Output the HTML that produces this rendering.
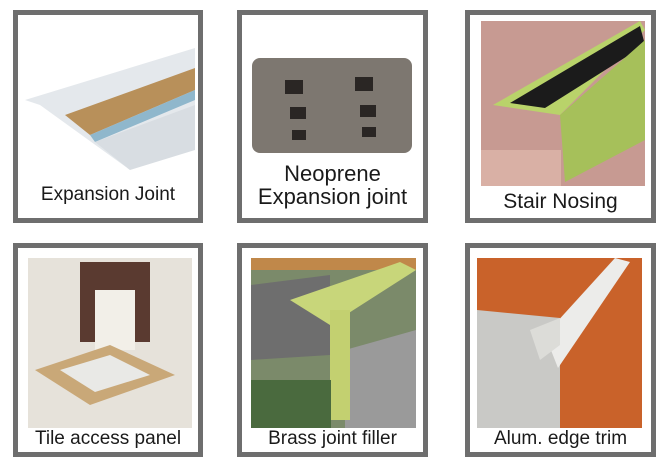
<!DOCTYPE html>
<html><head><style>
body{margin:0;background:#fff;width:670px;height:468px;overflow:hidden;font-family:"Liberation Sans",sans-serif}
.b{position:absolute;box-sizing:border-box;border:5px solid #6e6e6e;background:#fff}
.t{position:absolute;left:0;right:0;text-align:center;color:#1a1a1a;white-space:nowrap}
</style></head><body>
<svg width="670" height="468" style="position:absolute;left:0;top:0">
<polygon points="25,100 195,48 195,120 130,170 40,105" fill="#e4e8ec"/>
<polygon points="65,115 195,68 195,90 90,135" fill="#b8905a"/>
<polygon points="90,135 195,90 195,100 95,142" fill="#8fb7cc"/>
<polygon points="95,142 195,105 195,150 130,170" fill="#d8dde2"/>
<rect x="252" y="58" width="160" height="95" rx="8" fill="#7d7770"/>
<g fill="#2a2624"><rect x="285" y="80" width="18" height="14"/><rect x="355" y="77" width="18" height="14"/><rect x="290" y="107" width="16" height="12"/><rect x="360" y="105" width="16" height="12"/><rect x="292" y="130" width="14" height="10"/><rect x="362" y="127" width="14" height="10"/></g>
<rect x="481" y="21" width="164" height="165" fill="#c79a92"/>
<rect x="481" y="150" width="80" height="36" fill="#d9b0a5"/>
<polygon points="493,105 640,21 645,30 560,115" fill="#b9d36a"/>
<polygon points="510,103 640,26 645,45 545,108" fill="#1b1b1b"/>
<polygon points="560,115 645,40 645,140 565,182" fill="#a6c05a"/>
<rect x="28" y="258" width="164" height="170" fill="#e6e2da"/>
<rect x="80" y="262" width="70" height="80" fill="#5a3a30"/>
<rect x="95" y="290" width="40" height="60" fill="#f2efe8"/>
<polygon points="35,370 110,345 175,375 90,405" fill="#c9a878"/>
<polygon points="60,370 110,355 150,375 95,392" fill="#e9e9e6"/>
<rect x="251" y="258" width="165" height="170" fill="#7b8a6a"/>
<rect x="251" y="258" width="165" height="12" fill="#c0884a"/>
<polygon points="251,285 330,275 330,355 251,360" fill="#6e6e6e"/>
<polygon points="345,350 416,330 416,428 345,428" fill="#9a9a9a"/>
<polygon points="290,300 400,262 416,270 330,325" fill="#c8d67a"/>
<rect x="330" y="310" width="20" height="110" fill="#c3d070"/>
<rect x="251" y="380" width="80" height="48" fill="#4a6a3e"/>
<rect x="477" y="258" width="165" height="170" fill="#c9622a"/>
<polygon points="477,310 560,318 560,428 477,428" fill="#c9c9c6"/>
<polygon points="545,335 615,258 630,262 558,368" fill="#ececea"/>
<polygon points="530,330 560,318 560,345 540,360" fill="#dcdcd8"/>
</svg>
<div class="b" style="left:13px;top:10px;width:190px;height:213px;background:none"></div>
<div class="b" style="left:237px;top:10px;width:191px;height:213px;background:none"></div>
<div class="b" style="left:465px;top:10px;width:191px;height:213px;background:none"></div>
<div class="b" style="left:13px;top:243px;width:190px;height:214px;background:none"></div>
<div class="b" style="left:237px;top:243px;width:191px;height:214px;background:none"></div>
<div class="b" style="left:465px;top:243px;width:191px;height:214px;background:none"></div>
<div class="t" style="left:13px;width:190px;right:auto;top:184px;font-size:19px">Expansion Joint</div>
<div class="t" style="left:237px;width:191px;right:auto;top:162px;font-size:22px;line-height:23px">Neoprene<br>Expansion joint</div>
<div class="t" style="left:465px;width:191px;right:auto;top:190px;font-size:21px">Stair Nosing</div>
<div class="t" style="left:13px;width:190px;right:auto;top:428px;font-size:19px">Tile access panel</div>
<div class="t" style="left:237px;width:191px;right:auto;top:428px;font-size:19px">Brass joint filler</div>
<div class="t" style="left:465px;width:191px;right:auto;top:428px;font-size:19px">Alum. edge trim</div>
</body></html>
